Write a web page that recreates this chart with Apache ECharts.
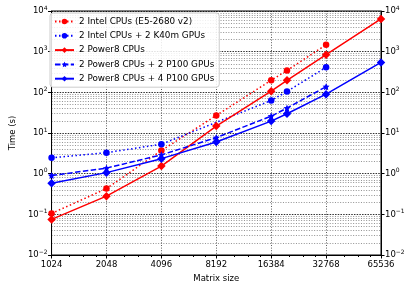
<!DOCTYPE html>
<html><head><meta charset="utf-8">
<script src="https://cdn.jsdelivr.net/npm/echarts@6/dist/echarts.min.js"></script>
<style>html,body{margin:0;padding:0;background:#fff}#c{width:415px;height:288px}</style>
</head><body><div id="c"></div>
<script>
// Matrix sizes (x)
const sizes = [1024, 2048, 4096, 8192, 16384, 20000, 32768, 65536];
// Time (s) per series, null = not measured
const intelCPU      = [0.105, 0.43, 3.7, 27, 198, 345, 1480, null];
const intelK40      = [2.45, 3.28, 5.3, null, 63, 105, 412, null];
const power8CPU     = [0.075, 0.28, 1.54, 14.8, 107, 198, 840, 6400];
const power8P100x2  = [0.9, 1.37, 2.9, 7.7, 26, 41, 138, null];
const power8P100x4  = [0.58, 1.06, 2.34, 6.0, 19.6, 29.8, 90, 545];
const seriesNames = ['2 Intel CPUs (E5-2680 v2)', '2 Intel CPUs + 2 K40m GPUs', '2 Power8 CPUs', '2 Power8 CPUs + 2 P100 GPUs', '2 Power8 CPUs + 4 P100 GPUs'];
const xTicks = [1024, 2048, 4096, 8192, 16384, 32768, 65536];
const yExps = [-2, -1, 0, 1, 2, 3, 4];

const FONT = 'DejaVu Sans';
function pairs(arr){ return sizes.map((s,i)=>[s, arr[i]]).filter(p=>p[1]!==null); }
const minorVals = [];
for (let k = 0; k < yExps.length - 1; k++) for (let m = 2; m <= 9; m++) minorVals.push(m * Math.pow(10, yExps[k]));

function yLabel(v){
  const e = Math.round(Math.log10(v));
  return '{b|10}{s|' + (e < 0 ? '\u2212' + (-e) : e) + '}';
}
const rich = { b: {fontFamily: FONT, fontSize: 8.5, color: '#000'}, s: {fontFamily: FONT, fontSize: 6, color: '#000', padding: [0,0,6,0]} };

const styles = [
  {data: intelCPU, color: '#ff0000', type: [1.5, 2.5], symbol: 'circle', size: 6.5},
  {data: intelK40, color: '#0000ff', type: [1.5, 2.5], symbol: 'circle', size: 6.5},
  {data: power8CPU, color: '#ff0000', type: 'solid', symbol: 'diamond', size: 8.5},
  {data: power8P100x2, color: '#0000ff', type: [5.5, 2.4], symbol: 'path://M0,-10 L2.9,-4 L9.5,-3.1 L4.7,1.5 L5.9,8.1 L0,5 L-5.9,8.1 L-4.7,1.5 L-9.5,-3.1 L-2.9,-4 Z', size: 7},
  {data: power8P100x4, color: '#0000ff', type: 'solid', symbol: 'diamond', size: 8.5}
];

const series = styles.map((st, i) => ({
  name: seriesNames[i], type: 'line', data: pairs(st.data), connectNulls: true,
  symbol: st.symbol, symbolSize: st.size, showSymbol: true,
  lineStyle: {color: st.color, width: 1.5, type: st.type},
  itemStyle: {color: st.color},
  emphasis: {disabled: true}, animation: false, z: 3 + i
}));
series[0].markLine = {
  silent: true, symbol: 'none', label: {show: false}, animation: false,
  lineStyle: {color: '#000', width: 0.8, type: [1, 1.6], opacity: 0.55},
  data: minorVals.map(v => ({yAxis: v}))
};
series[0].markLine.z = 1;

const axisCommonY = {
  type: 'log', logBase: 10, min: 0.01, max: 10000, splitNumber: 6,
  axisLine: {show: true, lineStyle: {color: '#000', width: 1}},
  axisTick: {show: true, length: 3.5, lineStyle: {color: '#000'}},
  axisLabel: {formatter: yLabel, rich: rich, margin: 4}
};

const chart = echarts.init(document.getElementById('c'), null, {renderer: 'canvas'});
chart.setOption({
  animation: false,
  backgroundColor: '#fff',
  grid: {left: 46, right: 34, top: 11, bottom: 33, show: true, borderColor: '#000', borderWidth: 1, backgroundColor: 'transparent'},
  legend: {
    orient: 'vertical', left: 50, top: 13, data: seriesNames,
    itemWidth: 19, itemHeight: 7, itemGap: 5.3,
    textStyle: {fontFamily: FONT, fontSize: 8.8, color: '#000'},
    backgroundColor: 'rgba(255,255,255,0.85)', borderColor: '#ccc', borderWidth: 1, borderRadius: 3,
    padding: [4, 5, 4, 4]
  },
  xAxis: {
    type: 'log', logBase: 2, min: 1024, max: 65536, splitNumber: 6,
    name: 'Matrix size', nameLocation: 'middle', nameGap: 17,
    nameTextStyle: {fontFamily: FONT, fontSize: 8.5, color: '#000'},
    axisLine: {show: true, lineStyle: {color: '#000', width: 1}},
    axisTick: {show: true, length: 3.5, lineStyle: {color: '#000'}},
    minorTick: {show: true, splitNumber: 4, length: 2, lineStyle: {color: '#000'}},
    axisLabel: {fontFamily: FONT, fontSize: 8.5, color: '#000', margin: 5,
      formatter: v => String(Math.round(v)), customValues: xTicks},
    splitLine: {show: true, lineStyle: {color: '#000', width: 0.8, type: [1, 1.6], opacity: 0.8}}
  },
  yAxis: [
    Object.assign({}, axisCommonY, {
      position: 'left', name: 'Time (s)', nameLocation: 'middle', nameGap: 33,
      nameTextStyle: {fontFamily: FONT, fontSize: 8.5, color: '#000'},
      splitLine: {show: true, lineStyle: {color: '#000', width: 0.9, type: [1.5, 1.2], opacity: 0.9}}
    }),
    Object.assign({}, axisCommonY, {position: 'right', splitLine: {show: false}})
  ],
  series: series
});
</script></body></html>
